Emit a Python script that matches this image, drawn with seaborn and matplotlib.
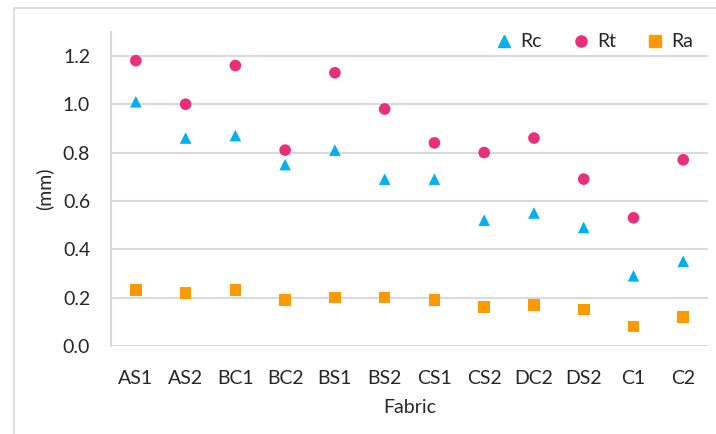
import pandas as pd
import seaborn as sns
import matplotlib.pyplot as plt
from matplotlib.lines import Line2D

fabrics = ['AS1', 'AS2', 'BC1', 'BC2', 'BS1', 'BS2', 'CS1', 'CS2', 'DC2', 'DS2', 'C1', 'C2']
rc = [1.01, 0.86, 0.87, 0.75, 0.81, 0.69, 0.69, 0.52, 0.55, 0.49, 0.29, 0.35]
rt = [1.18, 1.00, 1.16, 0.81, 1.13, 0.98, 0.84, 0.80, 0.86, 0.69, 0.53, 0.77]
ra = [0.23, 0.22, 0.23, 0.19, 0.20, 0.20, 0.19, 0.16, 0.17, 0.15, 0.08, 0.12]

series = ['Rc', 'Rt', 'Ra']
colors = {'Rc': '#00B0F0', 'Rt': '#E8307A', 'Ra': '#FF9900'}
markers = {'Rc': '^', 'Rt': 'o', 'Ra': 's'}

df = pd.DataFrame({'Fabric': fabrics * 3,
                   'value': rc + rt + ra,
                   'series': ['Rc'] * 12 + ['Rt'] * 12 + ['Ra'] * 12})

sns.set_style('white')
plt.rcParams['font.family'] = ['Lato', 'DejaVu Sans']

fig = plt.figure(figsize=(7.16, 4.34), dpi=100)
ax = fig.add_axes([0.155, 0.203, 0.834, 0.724])

sns.scatterplot(data=df, x='Fabric', y='value', hue='series', style='series',
                palette=colors, markers=markers, s=70, edgecolor='none',
                ax=ax, legend=False, zorder=3)

ax.set_xlim(-0.5, 11.5)
ax.set_ylim(0, 1.3)
ax.set_yticks([0, 0.2, 0.4, 0.6, 0.8, 1.0, 1.2])
ax.set_yticklabels(['%.1f' % v for v in ax.get_yticks()])
ax.grid(axis='y', color='#D9D9D9', linewidth=1.5)
ax.set_axisbelow(True)
for side in ['top', 'right', 'bottom']:
    ax.spines[side].set_visible(False)
ax.spines['left'].set_color('#D9D9D9')
ax.spines['left'].set_linewidth(1.5)
ax.tick_params(axis='both', length=0, labelsize=14, colors='#262626')
ax.tick_params(axis='x', pad=17)
ax.tick_params(axis='y', pad=15)
ax.set_xlabel('Fabric', fontsize=14, color='#262626', labelpad=9)
ax.set_ylabel('(mm)', fontsize=14, color='#262626', labelpad=7)

handles = [Line2D([], [], linestyle='none', marker=markers[k], color=colors[k],
                  markersize=8) for k in series]
ax.legend(handles, series, ncol=3, frameon=False, loc='upper right',
          bbox_to_anchor=(1.005, 1.05), fontsize=14, handletextpad=0.35,
          columnspacing=1.5, handlelength=1.0)

# light border around the chart area, as in the original export
fig.add_artist(Line2D([14 / 716, 1], [1 - 8 / 434] * 2, transform=fig.transFigure,
                      color='#D9D9D9', linewidth=1.2))
fig.add_artist(Line2D([14 / 716] * 2, [0, 1 - 8 / 434], transform=fig.transFigure,
                      color='#D9D9D9', linewidth=1.2))

fig.savefig('out.png', dpi=100)
